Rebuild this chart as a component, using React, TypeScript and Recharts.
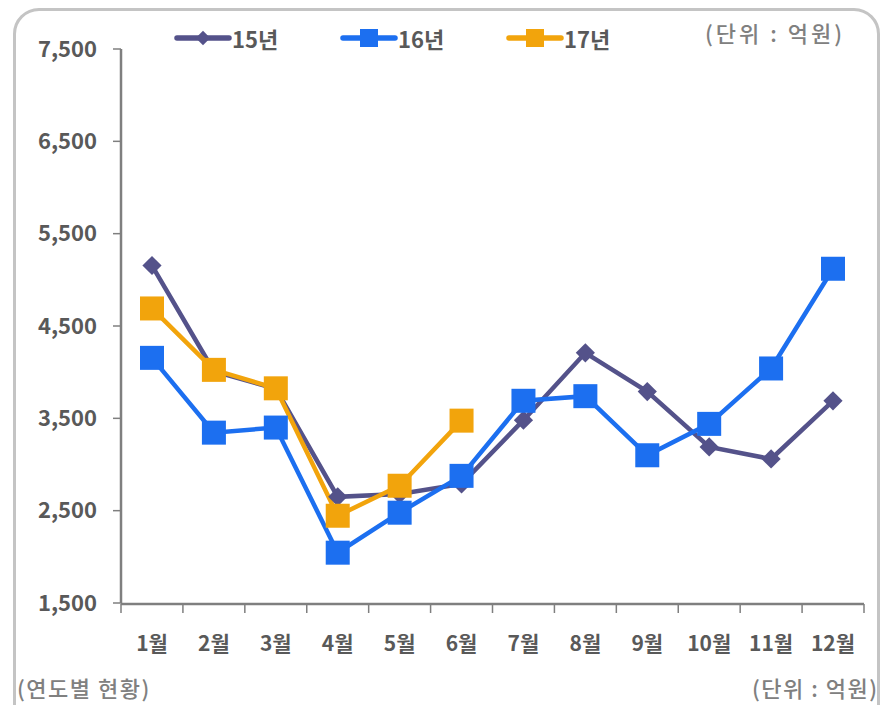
import React from 'react';
import { LineChart, Line, XAxis, YAxis } from 'recharts';

const FONT = "'Noto Sans CJK KR', 'Noto Sans', sans-serif";
const LABEL = '#595959';
const AXIS = '#7f7f7f';

// values (억원)
const MONTHS = ['1월', '2월', '3월', '4월', '5월', '6월', '7월', '8월', '9월', '10월', '11월', '12월'];
const Y15 = [5155, 4010, 3820, 2650, 2680, 2790, 3480, 4210, 3790, 3190, 3060, 3690];
const Y16 = [4155, 3345, 3400, 2045, 2478, 2877, 3690, 3740, 3100, 3440, 4040, 5120];
const Y17 = [4690, 4025, 3825, 2445, 2770, 3475];
const Y_TICKS = [1500, 2500, 3500, 4500, 5500, 6500, 7500];
// category boundaries for the x-axis tick marks
const EDGE_TICKS = [0, 1, 2, 3, 4, 5, 6, 7, 8, 9, 10, 11, 12];

const SERIES = [
    { key: 'y15', name: '15년', color: '#54528a', shape: 'diamond' },
    { key: 'y16', name: '16년', color: '#1c6ff0', shape: 'square' },
    { key: 'y17', name: '17년', color: '#f2a40c', shape: 'square' },
];

const rows = MONTHS.map((m, i) => ({ month: m, slot: i, y15: Y15[i], y16: Y16[i], y17: Y17[i] }));

function Marker({ cx, cy, shape, color, size = 24 }: any) {
    if (cx == null || cy == null) return <g />;
    if (shape === 'diamond') {
        const r = size * 0.4;
        return <polygon points={`${cx},${cy - r} ${cx + r},${cy} ${cx},${cy + r} ${cx - r},${cy}`} fill={color} />;
    }
    const h = size / 2;
    return <rect x={cx - h} y={cy - h} width={size} height={size} fill={color} />;
}

function LegendItem({ name, color, shape, left }: any) {
    return (
        <div style={{ position: 'absolute', left, top: 24, height: 28, display: 'flex', alignItems: 'center' }}>
            <svg width={58} height={28}>
                <line x1={3} y1={14} x2={55} y2={14} stroke={color} strokeWidth={5.5} strokeLinecap="round" />
                <Marker cx={29} cy={14} shape={shape} color={color} size={18} />
            </svg>
            <span style={{ fontSize: 22, fontWeight: 700, color: LABEL, lineHeight: '28px' }}>{name}</span>
        </div>
    );
}

const LEGEND_LEFT = [174, 340, 506];
const NOTE = { position: 'absolute' as const, fontSize: 22, fontWeight: 500, letterSpacing: 1.5, color: '#808080', whiteSpace: 'nowrap' as const };

export default function App() {
    return (
        <div style={{ position: 'absolute', left: 0, top: 0, width: 889, height: 705, overflow: 'hidden', background: '#fff', fontFamily: FONT }}>
            <div style={{ position: 'absolute', left: 13, top: 8, width: 861, height: 760, border: '3px solid #c4c4c4', borderRadius: 26 }} />
            <LineChart width={889} height={705} data={rows} margin={{ top: 49, right: 25, left: 0, bottom: 0 }} style={{ position: 'absolute', left: 0, top: 0 }}>
                <XAxis dataKey="month" height={1} padding={{ left: 31, right: 31 }} interval={0}
                    axisLine={false} tickLine={false} tickSize={0} tickMargin={33}
                    tick={{ fontSize: 21, fontWeight: 700, fill: LABEL, fontFamily: FONT }} />
                <XAxis xAxisId="edge" dataKey="slot" type="number" domain={[0, 12]} ticks={EDGE_TICKS} height={101}
                    allowDataOverflow interval={0}
                    tick={() => <g />} tickSize={9} axisLine={{ stroke: AXIS, strokeWidth: 2.5 }} tickLine={{ stroke: AXIS, strokeWidth: 1.5 }} />
                <YAxis width={121} domain={[1500, 7500]} ticks={Y_TICKS} interval={0}
                    tickFormatter={(v: number) => v.toLocaleString('en-US')}
                    axisLine={{ stroke: AXIS, strokeWidth: 2.5 }} tickLine={{ stroke: AXIS, strokeWidth: 1.5 }}
                    tickSize={8} tickMargin={16}
                    tick={{ fontSize: 22, fontWeight: 700, fill: LABEL, fontFamily: FONT }} />
                {SERIES.map((s) => (
                    <Line key={s.key} dataKey={s.key} name={s.name} stroke={s.color} strokeWidth={4.5}
                        isAnimationActive={false} activeDot={false}
                        dot={(p: any) => <Marker key={`${s.key}-${p.index}`} cx={p.cx} cy={p.cy} shape={s.shape} color={s.color} />} />
                ))}
            </LineChart>
            {SERIES.map((s, i) => (
                <LegendItem key={s.key} name={s.name} color={s.color} shape={s.shape} left={LEGEND_LEFT[i]} />
            ))}
            <div style={{ ...NOTE, left: 705, top: 16, letterSpacing: 3 }}>(단위 : 억원)</div>
            <div style={{ ...NOTE, left: 17, top: 671 }}>(연도별 현황)</div>
            <div style={{ ...NOTE, left: 752, top: 671 }}>(단위 : 억원)</div>
        </div>
    );
}
